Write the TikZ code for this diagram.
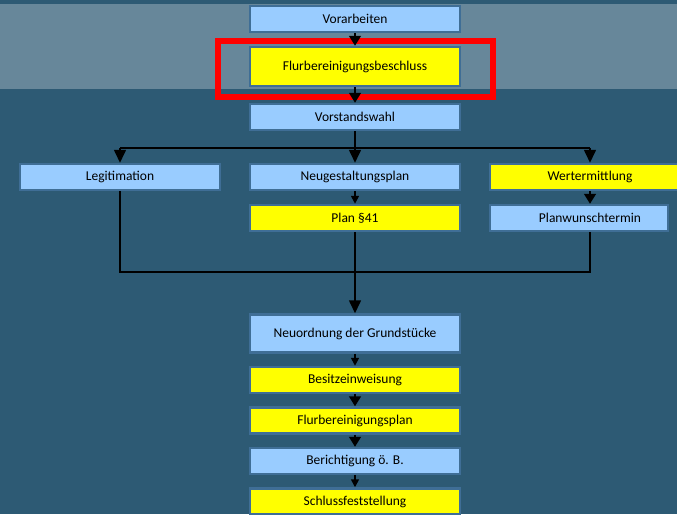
\documentclass[tikz,border=0pt]{standalone}
\usepackage{fontspec}
\setmainfont{Carlito}
\usetikzlibrary{arrows.meta}
\definecolor{bgdark}{HTML}{2D5A74}
\definecolor{band}{HTML}{67879A}
\definecolor{lblue}{HTML}{99CCFF}
\definecolor{yel}{HTML}{FFFF00}
\definecolor{bord}{HTML}{3F6E96}
\tikzset{
  box/.style={draw=bord, line width=2.5pt, inner sep=0pt, minimum height=26pt, minimum width=210pt, font=\fontsize{13.5}{16}\selectfont, text=black},
  bluebox/.style={box, fill=lblue},
  yelbox/.style={box, fill=yel},
  conn/.style={draw=black, line width=1.6pt},
  thin/.style={draw=black, line width=1.2pt},
  bigtip/.style={-{Triangle[width=12pt,length=13pt]}},
  midtip/.style={-{Triangle[width=12pt,length=10pt]}},
  smalltip/.style={-{Triangle[width=8pt,length=8pt]}},
}
\begin{document}
\begin{tikzpicture}[x=1pt,y=-1pt]
\useasboundingbox (0,0) rectangle (677,514);
\clip (0,0) rectangle (677,514);
\fill[bgdark] (0,0) rectangle (677,514);
\fill[band] (0,4) rectangle (677,89);

\node[bluebox] (vor) at (355,19) {Vorarbeiten};
\node[yelbox, minimum height=39pt] (bes) at (355,66.5) {Flurbereinigungsbeschluss};
\node[bluebox] (vst) at (355,117) {Vorstandswahl};
\node[bluebox, minimum width=200pt] (leg) at (120,177) {Legitimation};
\node[bluebox] (neu) at (355,177) {Neugestaltungsplan};
\node[yelbox, minimum width=200pt] (wert) at (590,177) {Wertermittlung};
\node[yelbox] (p41) at (355,218) {Plan §41};
\node[bluebox, minimum width=178pt] (pw) at (579,218) {\hspace*{22pt}Planwunschtermin};
\node[bluebox, minimum height=38pt] (neuord) at (355,333.5) {Neuordnung der Grundstücke};
\node[yelbox] (besitz) at (355,380) {Besitzeinweisung};
\node[yelbox] (flplan) at (355,420.5) {Flurbereinigungsplan};
\node[bluebox] (ber) at (355,461) {Berichtigung ö. B.};
\node[yelbox] (schl) at (355,501.5) {Schlussfeststellung};

\coordinate (bus) at (355,148);
\coordinate (low) at (355,272);

\draw[red, line width=5.5pt] (218,41) rectangle (493,97);

\draw[conn, midtip] (vor) -- (bes);
\draw[conn, midtip] (bes) -- (vst);
\draw[conn] (vst.south) -- (bus);
\draw[conn] (bus -| leg.north) -- (bus -| wert.north);
\draw[conn, bigtip] (bus -| leg.north) -- (leg.north);
\draw[conn, bigtip] (bus) -- (neu.north);
\draw[conn, bigtip] (bus -| wert.north) -- (wert.north);
\draw[conn, smalltip] (neu) -- (p41);
\draw[conn, midtip] (wert.south) -- (wert.south |- pw.north);
\draw[thin] (leg.south) -- (low -| leg.south) -- (low -| wert.south) -- (wert.south |- pw.south);
\draw[conn, bigtip] (p41.south) -- (neuord.north);
\draw[conn, smalltip] (neuord) -- (besitz);
\draw[conn, midtip] (besitz) -- (flplan);
\draw[conn, midtip] (flplan) -- (ber);
\draw[conn, smalltip] (ber) -- (schl);
\end{tikzpicture}
\end{document}
